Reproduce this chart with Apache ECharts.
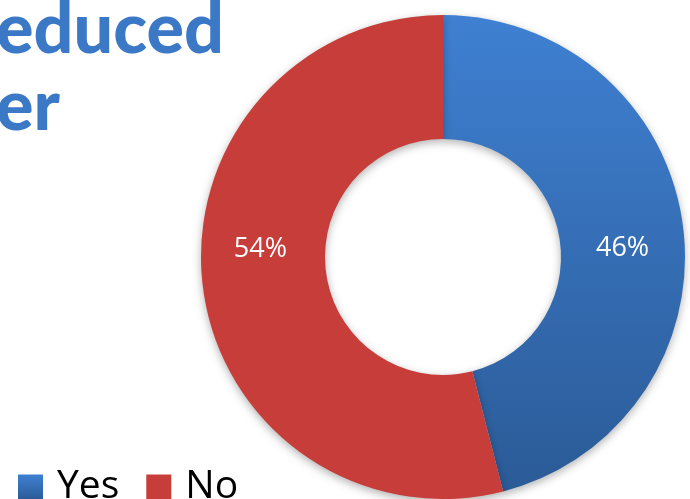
<!DOCTYPE html>
<html>
<head>
<meta charset="utf-8">
<script src="https://cdn.jsdelivr.net/npm/echarts@6/dist/echarts.min.js"></script>
<style>
html,body{margin:0;padding:0;background:#fff;}
#chart{width:690px;height:499px;}
</style>
</head>
<body>
<div id="chart"></div>
<script>
const categories = ['Yes', 'No'];
const values = [46, 54];
const titleLines = ['educed', 'er'];

const chart = echarts.init(document.getElementById('chart'), null, {renderer: 'canvas'});

const colors = [
  new echarts.graphic.LinearGradient(0, 0, 0, 1, [
    {offset: 0, color: '#3f80d2'},
    {offset: 1, color: '#2b5b97'}
  ]),
  '#c63d3a'
];
const labelOffsets = [[-2, 14], [-1, -31]];

const option = {
  animation: false,
  backgroundColor: '#ffffff',
  graphic: [
    {type: 'text', left: -4, top: -5, style: {text: titleLines[0], x: 0, y: 0, fill: '#3b78c5', font: '900 70px Lato', textVerticalAlign: 'top'}, silent: true},
    {type: 'text', left: -4, top: 72, style: {text: titleLines[1], x: 0, y: 0, fill: '#3b78c5', font: '900 70px Lato', textVerticalAlign: 'top'}, silent: true}
  ],
  legend: {
    left: 13,
    top: 462,
    icon: 'rect',
    itemWidth: 25,
    itemHeight: 25,
    itemGap: 27,
    selectedMode: false,
    data: categories,
    textStyle: {fontFamily: 'Open Sans', fontSize: 39, lineHeight: 40, color: '#000', padding: [0, 0, 0, 9]}
  },
  series: [{
    type: 'pie',
    center: [443, 257],
    radius: [118, 242],
    startAngle: 90,
    clockwise: true,
    silent: true,
    avoidLabelOverlap: false,
    label: {
      show: true,
      position: 'inside',
      color: '#ffffff',
      fontFamily: 'Open Sans',
      fontSize: 27,
      formatter: p => p.value + '%'
    },
    labelLine: {show: false},
    itemStyle: {
      shadowBlur: 8,
      shadowOffsetY: 3,
      shadowColor: 'rgba(0,0,0,0.3)'
    },
    data: categories.map((c, i) => ({
      name: c,
      value: values[i],
      itemStyle: {color: colors[i]},
      label: {offset: labelOffsets[i]}
    }))
  }]
};
chart.setOption(option);
</script>
</body>
</html>
